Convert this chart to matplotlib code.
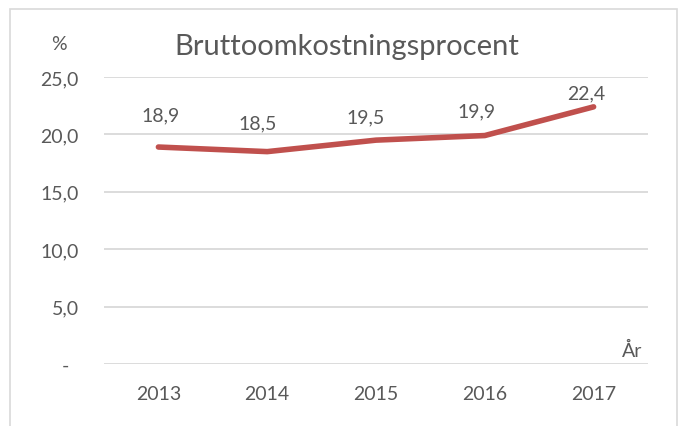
import matplotlib
matplotlib.use("Agg")
import matplotlib.pyplot as plt
from matplotlib.patches import Rectangle

years = ["2013", "2014", "2015", "2016", "2017"]
values = [18.9, 18.5, 19.5, 19.9, 22.4]
value_labels = ["18,9", "18,5", "19,5", "19,9", "22,4"]
y_ticks = [0, 5, 10, 15, 20, 25]
y_tick_labels = ["-", "5,0", "10,0", "15,0", "20,0", "25,0"]
title = "Bruttoomkostningsprocent"

W, H = 684, 427
fig = plt.figure(figsize=(W / 100, H / 100), dpi=100)
plt.rcParams['font.family'] = ['Lato', 'DejaVu Sans']
txt = "#595959"
fs = 14

# outer border
fig.patches.append(Rectangle((10 / W, -0.01), 667 / W, 1 - 10 / H + 0.01,
                             transform=fig.transFigure, fill=False,
                             edgecolor="#D9D9D9", linewidth=1.2))

ax = fig.add_axes([104 / W, 1 - 365 / H, 544 / W, (365 - 78) / H])
x = list(range(len(years)))
ax.plot(x, values, color="#C0504D", linewidth=4.0, solid_capstyle="round",
        solid_joinstyle="round", zorder=3)
ax.set_xlim(-0.5, len(years) - 0.5)
ax.set_ylim(0, 25)
ax.set_yticks(y_ticks)
ax.set_yticklabels(y_tick_labels)
ax.set_xticks(x)
ax.set_xticklabels(years)
ax.tick_params(axis="both", length=0, colors=txt, labelsize=fs)
ax.tick_params(axis="y", pad=18)
ax.tick_params(axis="x", pad=15)
ax.yaxis.grid(True, color="#D9D9D9", linewidth=1.3)
ax.set_axisbelow(True)
for s in ax.spines.values():
    s.set_visible(False)
# shift "-" label left a little
ax.get_yticklabels()[0].set_x(-0.018)

offsets = [(2, 32), (-10, 29), (-10, 23), (-8, 25), (-7, 14)]
for xi, v, lab, (dx, dy) in zip(x, values, value_labels, offsets):
    ax.annotate(lab, (xi, v), xytext=(dx, dy), textcoords="offset pixels",
                ha="center", va="center", fontsize=fs, color=txt)

fig.text(347 / W, 1 - 47 / H, title, ha="center", va="center",
         fontsize=21, color=txt)
fig.text(59 / W, 1 - 45 / H, "%", ha="center", va="center",
         fontsize=fs, color=txt)
fig.text(642 / W, 1 - 351 / H, "År", ha="right", va="center",
         fontsize=fs, color=txt)

fig.savefig("out.png", dpi=100)
